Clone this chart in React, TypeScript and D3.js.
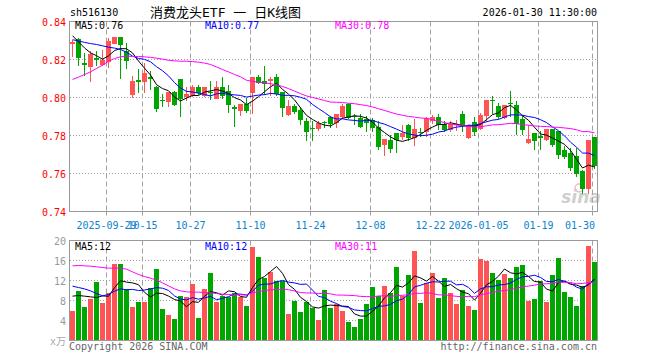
import React from 'react';
import * as d3 from 'd3';

// trading days shown on the chart
const dates = [
  '2025-09-19', '2025-09-22', '2025-09-23', '2025-09-24', '2025-09-25', '2025-09-26', '2025-09-29', '2025-09-30',
  '2025-10-09', '2025-10-10', '2025-10-13', '2025-10-14', '2025-10-15', '2025-10-16', '2025-10-17', '2025-10-20',
  '2025-10-21', '2025-10-22', '2025-10-23', '2025-10-24', '2025-10-27', '2025-10-28', '2025-10-29', '2025-10-30',
  '2025-10-31', '2025-11-03', '2025-11-04', '2025-11-05', '2025-11-06', '2025-11-07', '2025-11-10', '2025-11-11',
  '2025-11-12', '2025-11-13', '2025-11-14', '2025-11-17', '2025-11-18', '2025-11-19', '2025-11-20', '2025-11-21',
  '2025-11-24', '2025-11-25', '2025-11-26', '2025-11-27', '2025-11-28', '2025-12-01', '2025-12-02', '2025-12-03',
  '2025-12-04', '2025-12-05', '2025-12-08', '2025-12-09', '2025-12-10', '2025-12-11', '2025-12-12', '2025-12-15',
  '2025-12-16', '2025-12-17', '2025-12-18', '2025-12-19', '2025-12-22', '2025-12-23', '2025-12-24', '2025-12-25',
  '2025-12-26', '2025-12-29', '2025-12-30', '2025-12-31', '2026-01-05', '2026-01-06', '2026-01-07', '2026-01-08',
  '2026-01-09', '2026-01-12', '2026-01-13', '2026-01-14', '2026-01-15', '2026-01-16', '2026-01-19', '2026-01-20',
  '2026-01-21', '2026-01-22', '2026-01-23', '2026-01-26', '2026-01-27', '2026-01-28', '2026-01-29', '2026-01-30',
];

const open = [
  0.8285, 0.8305, 0.8177, 0.8161, 0.8207, 0.8175, 0.8188, 0.8284, 0.8316, 0.8240,
  0.8016, 0.8088, 0.8082, 0.8105, 0.8053, 0.7986, 0.7977, 0.8026, 0.8095, 0.8004,
  0.8009, 0.8053, 0.8009, 0.8028, 0.7995, 0.8053, 0.8033, 0.7947, 0.7930, 0.7963,
  0.8026, 0.8105, 0.8082, 0.8088, 0.8105, 0.8026, 0.7910, 0.7954, 0.7933, 0.7875,
  0.7839, 0.7837, 0.7868, 0.7895, 0.7868, 0.7902, 0.7965, 0.7899, 0.7890, 0.7884,
  0.7880, 0.7842, 0.7753, 0.7775, 0.7811, 0.7793, 0.7854, 0.7788, 0.7817, 0.7819,
  0.7880, 0.7895, 0.7860, 0.7832, 0.7856, 0.7912, 0.7789, 0.7867, 0.7837, 0.7907,
  0.7984, 0.7954, 0.7893, 0.7969, 0.7956, 0.7884, 0.7761, 0.7811, 0.7794, 0.7779,
  0.7832, 0.7819, 0.7723, 0.7705, 0.7688, 0.7612, 0.7521, 0.7789,
];
const high = [
  0.8302, 0.8311, 0.8232, 0.8240, 0.8240, 0.8249, 0.8311, 0.8318, 0.8318, 0.8284,
  0.8109, 0.8147, 0.8179, 0.8135, 0.8056, 0.8016, 0.8028, 0.8033, 0.8095, 0.8051,
  0.8065, 0.8065, 0.8053, 0.8082, 0.8086, 0.8104, 0.8065, 0.7956, 0.7963, 0.7995,
  0.8107, 0.8114, 0.8165, 0.8104, 0.8119, 0.8028, 0.7986, 0.7963, 0.7945, 0.7889,
  0.7872, 0.7872, 0.7875, 0.7898, 0.7910, 0.7963, 0.7968, 0.7910, 0.7910, 0.7898,
  0.7890, 0.7872, 0.7779, 0.7802, 0.7811, 0.7854, 0.7858, 0.7884, 0.7837, 0.7893,
  0.7907, 0.7910, 0.7872, 0.7872, 0.7880, 0.7925, 0.7851, 0.7895, 0.7916, 0.7986,
  0.8004, 0.7968, 0.7960, 0.8033, 0.7977, 0.7907, 0.7854, 0.7811, 0.7819, 0.7832,
  0.7832, 0.7819, 0.7740, 0.7732, 0.7732, 0.7618, 0.7775, 0.7789,
];
const low = [
  0.8214, 0.8170, 0.8118, 0.8082, 0.8170, 0.8170, 0.8158, 0.8284, 0.8100, 0.8153,
  0.8000, 0.8026, 0.8026, 0.8044, 0.7928, 0.7951, 0.7951, 0.7960, 0.7902, 0.7986,
  0.8004, 0.8016, 0.8004, 0.7991, 0.7993, 0.7995, 0.7919, 0.7849, 0.7904, 0.7919,
  0.7916, 0.8074, 0.8016, 0.8012, 0.8009, 0.7902, 0.7904, 0.7916, 0.7858, 0.7775,
  0.7775, 0.7828, 0.7840, 0.7840, 0.7840, 0.7890, 0.7890, 0.7858, 0.7840, 0.7819,
  0.7819, 0.7726, 0.7696, 0.7711, 0.7709, 0.7781, 0.7775, 0.7749, 0.7793, 0.7793,
  0.7863, 0.7833, 0.7819, 0.7819, 0.7828, 0.7819, 0.7784, 0.7802, 0.7832, 0.7872,
  0.7916, 0.7890, 0.7890, 0.7898, 0.7805, 0.7805, 0.7760, 0.7726, 0.7726, 0.7775,
  0.7740, 0.7679, 0.7679, 0.7618, 0.7582, 0.7495, 0.7495, 0.7626,
];
const close = [
  0.8288, 0.8209, 0.8175, 0.8228, 0.8200, 0.8196, 0.8296, 0.8316, 0.8279, 0.8196,
  0.8086, 0.8084, 0.8126, 0.8100, 0.7942, 0.7984, 0.8026, 0.7963, 0.7995, 0.8016,
  0.8053, 0.8026, 0.8053, 0.8025, 0.8053, 0.8012, 0.7963, 0.7944, 0.7963, 0.7930,
  0.8105, 0.8079, 0.8075, 0.8093, 0.8021, 0.7945, 0.7954, 0.7925, 0.7884, 0.7823,
  0.7837, 0.7863, 0.7866, 0.7863, 0.7910, 0.7954, 0.7895, 0.7898, 0.7846, 0.7867,
  0.7842, 0.7744, 0.7779, 0.7732, 0.7779, 0.7811, 0.7789, 0.7832, 0.7815, 0.7890,
  0.7895, 0.7860, 0.7832, 0.7858, 0.7858, 0.7851, 0.7851, 0.7823, 0.7907, 0.7986,
  0.7982, 0.7898, 0.7960, 0.7967, 0.7863, 0.7832, 0.7779, 0.7775, 0.7792, 0.7832,
  0.7753, 0.7700, 0.7691, 0.7632, 0.7600, 0.7521, 0.7775, 0.7644,
];
// volume in 万手
const volume = [
  6.0, 10.0, 6.8, 8.4, 11.8, 7.6, 9.6, 15.4, 15.4, 10.4,
  6.8, 7.8, 7.8, 10.6, 14.4, 6.4, 5.2, 4.4, 9.0, 8.8,
  11.4, 4.6, 10.4, 13.6, 7.8, 9.0, 8.8, 9.6, 8.8, 7.0,
  18.8, 16.8, 12.6, 13.8, 12.0, 12.0, 5.4, 8.0, 5.8, 7.8,
  6.6, 4.2, 10.2, 6.6, 7.4, 6.0, 3.8, 2.8, 4.4, 7.4,
  10.8, 9.0, 11.0, 9.6, 14.8, 9.0, 13.2, 18.0, 7.6, 11.6,
  13.6, 8.6, 12.6, 9.6, 7.4, 10.2, 7.0, 6.2, 16.4, 15.9,
  13.6, 12.2, 13.4, 12.6, 14.8, 15.2, 8.0, 8.4, 12.0, 7.8,
  13.2, 16.6, 9.8, 8.8, 7.0, 11.0, 19.0, 15.8,
];

// moving average values before a full window exists
const ma5Head = [0.8325, 0.8293, 0.8261, 0.8235];
const ma10Head = [0.8304, 0.8298, 0.8290, 0.8284, 0.8279, 0.8272, 0.8265, 0.8260, 0.8253];
const ma30Head = [
  0.8095, 0.8107, 0.8121, 0.8135, 0.8153, 0.8170, 0.8191, 0.8205, 0.8214, 0.8218,
  0.8216, 0.8216, 0.8214, 0.8211, 0.8207, 0.8202, 0.8196, 0.8193, 0.8191, 0.8191,
  0.8189, 0.8186, 0.8181, 0.8174, 0.8161, 0.8147, 0.8135, 0.8121, 0.8109,
];
const volMa5Head = [8.87, 9.0, 8.87, 8.73];
const volMa10Head = [10.87, 10.6, 10.33, 9.93, 9.4, 8.93, 9.2, 9.87, 10.33];
const volMa30Head = [
  14.93, 15.0, 14.93, 14.87, 14.73, 14.6, 14.47, 14.47, 14.47, 14.27,
  13.73, 13.2, 12.8, 12.47, 12.07, 11.53, 10.93, 10.33, 9.93, 9.73,
  9.67, 9.67, 9.6, 9.53, 9.4, 9.27, 9.2, 9.13, 9.13,
];

const priceTicks = [0.74, 0.76, 0.78, 0.80, 0.82, 0.84];
const volTicks = [4, 8, 12, 16, 20];
const tickDates = ['2025-09-29', '2025-10-15', '2025-10-27', '2025-11-10', '2025-11-24', '2025-12-08', '2025-12-22', '2026-01-05', '2026-01-19', '2026-01-30'];
const tickLabels = ['2025-09-29', '10-15', '10-27', '11-10', '11-24', '12-08', '12-22', '2026-01-05', '01-19', '01-30'];

const UP = '#ff5454';
const DOWN = '#00a600';
const GRID = '#a0a0a0';
const MONO = "'DejaVu Sans Mono', monospace";

function movingAvg(values: number[], n: number, head: number[]) {
  return values.map((_, i) => (i < head.length ? head[i] : (d3.mean(values.slice(i - n + 1, i + 1)) as number)));
}

export default function App() {
  const left = 70;
  const right = 598;
  const x = d3.scaleBand<string>().domain(dates).range([left, right]).padding(0);
  const bw = x.bandwidth() - 1;
  const y = d3.scaleLinear().domain([0.74, 0.84]).range([211.5, 21.5]);
  const vy = d3.scaleLinear().domain([0, 20]).range([340.5, 240.5]);

  const ma5 = movingAvg(close, 5, ma5Head);
  const ma10 = movingAvg(close, 10, ma10Head);
  const ma30 = movingAvg(close, 30, ma30Head);
  const vma5 = movingAvg(volume, 5, volMa5Head);
  const vma10 = movingAvg(volume, 10, volMa10Head);
  const vma30 = movingAvg(volume, 30, volMa30Head);

  const cx = (i: number) => (x(dates[i]) as number) + bw / 2;
  const priceLine = d3.line<number>().x((_, i) => cx(i)).y(d => y(d));
  const volLine = d3.line<number>().x((_, i) => cx(i)).y(d => vy(d));

  const last = dates.length - 1;
  const rightEdge = right - 0.5;
  const up = (i: number) => close[i] >= open[i];

  const maLines = [
    { data: ma5, color: '#000000' },
    { data: ma10, color: '#0000ff' },
    { data: ma30, color: '#ff00ff' },
  ];

  return (
    <svg width={660} height={360} style={{ position: 'absolute', left: 0, top: 0, background: '#fff' }} fontFamily={MONO}>
      {/* header */}
      <text x={70} y={16} fontSize={10} fill="#000">sh516130</text>
      <text x={150} y={17} fontSize={13} fill="#000" fontFamily={"'DejaVu Sans Mono', 'Noto Sans CJK SC', monospace"}>消费龙头ETF 一 日K线图</text>
      <text x={597} y={16} fontSize={10} fill="#000" textAnchor="end">2026-01-30 11:30:00</text>

      {/* price panel grid */}
      {priceTicks.slice(1, -1).map(t => (
        <line key={t} x1={left} x2={rightEdge} y1={y(t)} y2={y(t)} stroke={GRID} strokeDasharray="1,2" />
      ))}
      {volTicks.slice(0, -1).map(t => (
        <line key={t} x1={left} x2={rightEdge} y1={vy(t)} y2={vy(t)} stroke={GRID} strokeDasharray="1,2" />
      ))}
      {tickDates.map(d => {
        const gx = (x(d) as number) + 0.5;
        return (
          <g key={d}>
            <line x1={gx} x2={gx} y1={y(0.84)} y2={y(0.74)} stroke={GRID} strokeDasharray="5,3" />
            <line x1={gx} x2={gx} y1={y(0.74)} y2={y(0.74) + 4} stroke={GRID} />
            <line x1={gx} x2={gx} y1={vy(20)} y2={vy(0)} stroke={GRID} strokeDasharray="5,3" />
          </g>
        );
      })}

      {/* sina mark */}
      <g opacity={0.55}>
        <circle cx={579} cy={188} r={4} fill="none" stroke="#f08080" strokeWidth={1.5} />
        <text x={581} y={203} fontSize={17} fontStyle="italic" fontWeight="bold" fill="#a8a8a8" textAnchor="middle" fontFamily="'DejaVu Sans', sans-serif">sina</text>
      </g>

      {/* candles */}
      {dates.map((d, i) => {
        const bx = x(d) as number;
        const top = y(Math.max(open[i], close[i]));
        const bot = y(Math.min(open[i], close[i]));
        const c = up(i) ? UP : DOWN;
        return (
          <g key={d} shapeRendering="crispEdges">
            <rect x={bx + Math.floor(bw / 2)} y={y(high[i]) - 0.5} width={1} height={y(low[i]) - y(high[i]) + 1} fill={c} />
            <rect x={bx} y={top - 0.5} width={bw} height={Math.max(1, bot - top + 1)} fill={c} />
          </g>
        );
      })}

      {/* volume bars */}
      {dates.map((d, i) => (
        <rect key={d} x={x(d)} y={vy(volume[i])} width={bw} height={vy(0) - vy(volume[i])} fill={up(i) ? UP : DOWN} shapeRendering="crispEdges" />
      ))}

      {/* moving averages */}
      {maLines.map(m => (
        <path key={'p' + m.color} d={priceLine(m.data) as string} fill="none" stroke={m.color} strokeWidth={1} />
      ))}
      {[vma5, vma10, vma30].map((v, k) => (
        <path key={'v' + k} d={volLine(v) as string} fill="none" stroke={maLines[k].color} strokeWidth={1} />
      ))}

      {/* frames */}
      <rect x={left - 0.5} y={y(0.84)} width={rightEdge - left + 0.5} height={y(0.74) - y(0.84)} fill="none" stroke="#999" />
      <rect x={left - 0.5} y={vy(20)} width={rightEdge - left + 0.5} height={vy(0) - vy(20)} fill="none" stroke="#999" />

      {/* price axis labels */}
      {priceTicks.map(t => (
        <text key={t} x={66} y={y(t) + 4} fontSize={10} fill="#ff0000" textAnchor="end">{t.toFixed(2)}</text>
      ))}
      {/* volume axis labels */}
      {volTicks.map(t => (
        <text key={t} x={66} y={vy(t) + 4} fontSize={10} fill="#999" textAnchor="end">{t}</text>
      ))}
      <text x={66} y={345} fontSize={10} fill="#aaa" textAnchor="end" fontFamily={"'DejaVu Sans Mono', 'Noto Sans CJK SC', monospace"}>x万</text>

      {/* date labels */}
      {tickDates.map((d, k) => {
        const gx = (x(d) as number) + 0.5;
        const isLast = d === dates[last];
        return (
          <text key={d} x={isLast ? 595 : gx} y={229} fontSize={10} fill="#0a84d0" textAnchor={isLast ? 'end' : 'middle'}>{tickLabels[k]}</text>
        );
      })}

      {/* MA legends */}
      <text x={75} y={29} fontSize={10} fill="#000">MA5:{ma5[last].toFixed(2)}</text>
      <text x={205} y={29} fontSize={10} fill="#0000ff">MA10:{ma10[last].toFixed(2)}</text>
      <text x={335} y={29} fontSize={10} fill="#ff00ff">MA30:{ma30[last].toFixed(2)}</text>
      <text x={75} y={250} fontSize={10} fill="#000">MA5:{Math.floor(vma5[last])}</text>
      <text x={205} y={250} fontSize={10} fill="#0000ff">MA10:{Math.floor(vma10[last])}</text>
      <text x={335} y={250} fontSize={10} fill="#ff00ff">MA30:{Math.floor(vma30[last])}</text>

      {/* footer */}
      <text x={69} y={350} fontSize={10} fill="#666">Copyright 2026 SINA.COM</text>
      <text x={597} y={350} fontSize={10} fill="#666" textAnchor="end">http://finance.sina.com.cn</text>
    </svg>
  );
}
